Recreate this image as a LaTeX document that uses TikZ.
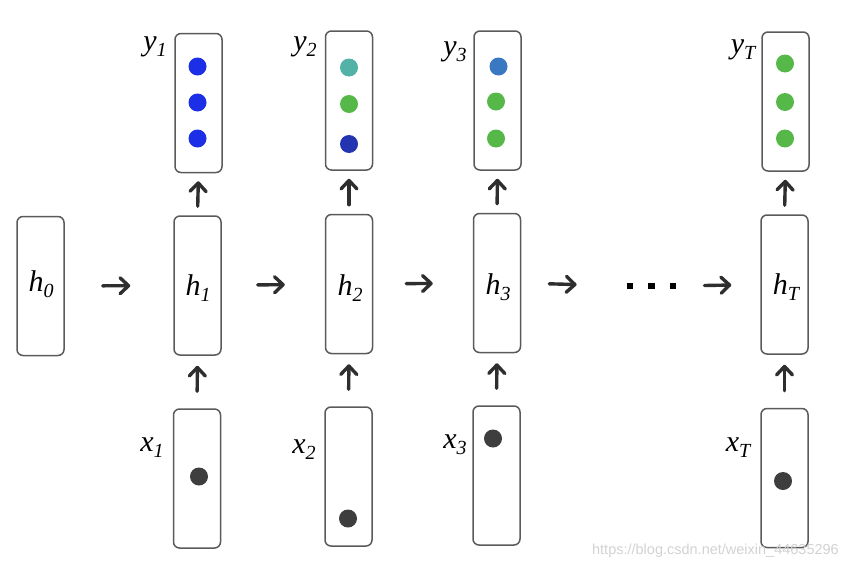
\documentclass[tikz,border=0pt]{standalone}
\usepackage{fontspec}
\setmainfont{Liberation Serif}
\setsansfont{Liberation Sans}
\usetikzlibrary{arrows.meta}
\definecolor{boxline}{HTML}{5A5A5A}
\definecolor{arrowc}{HTML}{2E2E2E}
\definecolor{cblue}{HTML}{1C2EE6}
\definecolor{cteal}{HTML}{52B2A8}
\definecolor{cgreen}{HTML}{55B848}
\definecolor{cdblue}{HTML}{2234B0}
\definecolor{csteel}{HTML}{3A78C2}
\definecolor{cgray}{HTML}{3E3E3E}
\definecolor{wmark}{HTML}{D2D2D2}
\newcommand{\vlab}[2]{{\fontsize{30}{32}\selectfont\itshape #1\raisebox{-0.2em}{\fontsize{20}{20}\selectfont #2}}}
\tikzset{
  vbox/.style={draw=boxline, line width=1.5pt, rounded corners=6pt, rectangle,
    minimum width=47pt, minimum height=139pt, inner sep=0pt},
  dot/.style={circle, fill=#1, minimum size=18pt, inner sep=0pt},
  sq/.style={rectangle, fill=black, minimum size=6.5pt, inner sep=0pt},
  arr/.style={draw=arrowc, line width=3.4pt, line cap=round,
    -{Straight Barb[length=8.5pt,width=16pt,line cap=round,line join=round]}},
  lab/.style={inner sep=0pt}
}
\begin{document}
\begin{tikzpicture}[x=1pt,y=-1pt]
\useasboundingbox (0,0) rectangle (848,570);
% hidden-state boxes
\node[vbox] (h0) at (40.5,286) {};
\node[vbox] (h1) at (197.5,285.5) {};
\node[vbox] (h2) at (349,284) {};
\node[vbox] (h3) at (497,283) {};
\node[vbox] (hT) at (784.5,284.5) {};
% output boxes
\node[vbox] (y1) at (198.5,103) {};
\node[vbox] (y2) at (349,100.5) {};
\node[vbox] (y3) at (497.5,100.5) {};
\node[vbox] (yT) at (785.5,101.5) {};
% input boxes
\node[vbox] (x1) at (197,478.5) {};
\node[vbox] (x2) at (348.5,476.5) {};
\node[vbox] (x3) at (496.5,475.5) {};
\node[vbox] (xT) at (784.5,478) {};
% h labels
\node[lab] (lh0) at (41,284) {\vlab{h}{0}};
\node[lab] (lh1) at (198,288) {\vlab{h}{1}};
\node[lab] (lh2) at (350,288) {\vlab{h}{2}};
\node[lab] (lh3) at (498,287) {\vlab{h}{3}};
\node[lab] (lhT) at (786,287) {\vlab{h}{T}};
% y labels
\node[lab] (ly1) at (155,47) {\vlab{y}{1}};
\node[lab] (ly2) at (305,47) {\vlab{y}{2}};
\node[lab] (ly3) at (455,52) {\vlab{y}{3}};
\node[lab] (lyT) at (743,50) {\vlab{y}{T}};
% x labels
\node[lab] (lx1) at (152,448) {\vlab{x}{1}};
\node[lab] (lx2) at (304,450) {\vlab{x}{2}};
\node[lab] (lx3) at (455,445) {\vlab{x}{3}};
\node[lab] (lxT) at (738,448) {\vlab{x}{T}};
% output dots
\node[dot=cblue] (y1a) at (197.5,66.5) {};
\node[dot=cblue] (y1b) at (197.5,102.5) {};
\node[dot=cblue] (y1c) at (197.5,138.5) {};
\node[dot=cteal] (y2a) at (349,67.5) {};
\node[dot=cgreen] (y2b) at (349,104) {};
\node[dot=cdblue] (y2c) at (349,144) {};
\node[dot=csteel] (y3a) at (498.5,66.5) {};
\node[dot=cgreen] (y3b) at (496,101.5) {};
\node[dot=cgreen] (y3c) at (496,138.5) {};
\node[dot=cgreen] (yTa) at (785,63.5) {};
\node[dot=cgreen] (yTb) at (785,102) {};
\node[dot=cgreen] (yTc) at (785,138.5) {};
% input dots
\node[dot=cgray] (x1d) at (199,476.5) {};
\node[dot=cgray] (x2d) at (348,518.5) {};
\node[dot=cgray] (x3d) at (493,438.5) {};
\node[dot=cgray] (xTd) at (783,481) {};
% ellipsis
\node[sq] (d1) at (630,286) {};
\node[sq] (d2) at (651.5,286) {};
\node[sq] (d3) at (673,286) {};
% horizontal arrows
\draw[arr, shorten <=38pt, shorten >=43pt] (h0) -- (h1);
\draw[arr, shorten <=36pt, shorten >=40pt] (h1) -- (h2);
\draw[arr, shorten <=33pt, shorten >=40pt] (h2) -- (h3);
\draw[arr, shorten <=28pt, shorten >=50pt] (h3.east) -- (d1.west);
\draw[arr, shorten <=28pt, shorten >=29pt] (d3.east) -- (hT.west);
% vertical arrows x -> h
\draw[arr, shorten <=17pt, shorten >=10pt] (x1.north) -- (h1.south);
\draw[arr, shorten <=17pt, shorten >=10pt] (x2.north) -- (h2.south);
\draw[arr, shorten <=17pt, shorten >=10pt] (x3.north) -- (h3.south);
\draw[arr, shorten <=17pt, shorten >=10pt] (xT.north) -- (hT.south);
% vertical arrows h -> y
\draw[arr, shorten <=9pt, shorten >=8pt] (h1.north) -- (y1.south);
\draw[arr, shorten <=9pt, shorten >=8pt] (h2.north) -- (y2.south);
\draw[arr, shorten <=9pt, shorten >=8pt] (h3.north) -- (y3.south);
\draw[arr, shorten <=9pt, shorten >=8pt] (hT.north) -- (yT.south);
% watermark
\node[lab, text=wmark, anchor=east, font=\sffamily\fontsize{14.5}{16}\selectfont] (wm) at (839,551) {https://blog.csdn.net/weixin\_44635296};
\end{tikzpicture}
\end{document}
